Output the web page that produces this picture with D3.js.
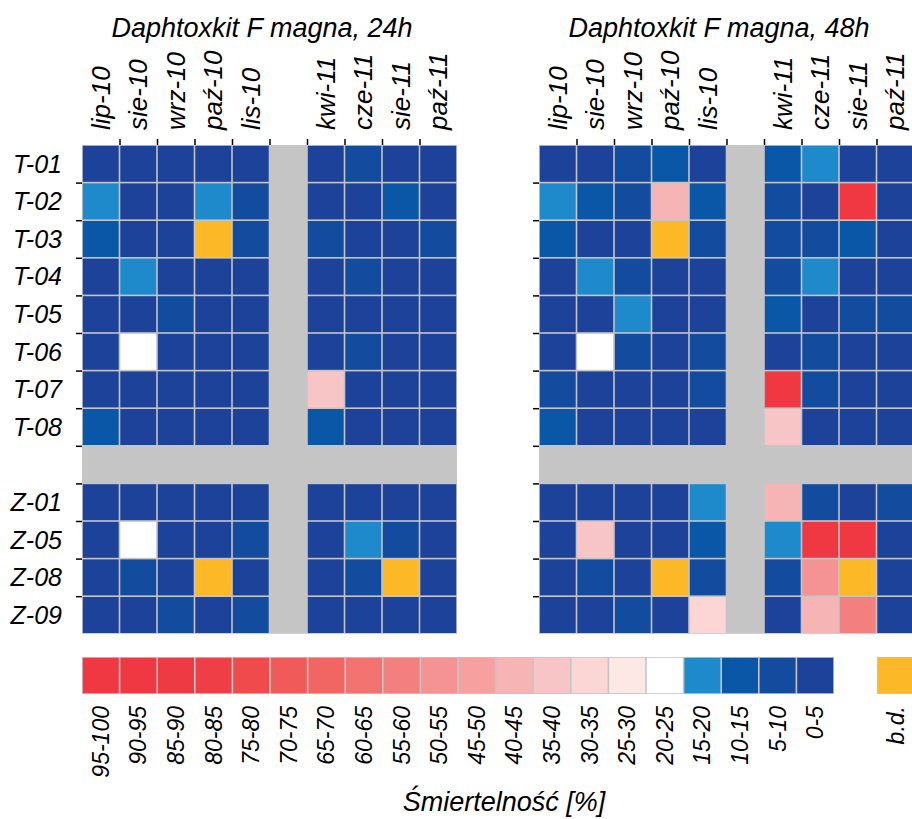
<!DOCTYPE html>
<html>
<head>
<meta charset="utf-8">
<script src="https://cdn.jsdelivr.net/npm/d3@7"></script>
<style>
  body { margin: 0; background: #fff; }
  text { font-family: "Liberation Sans", Arial, sans-serif; font-style: italic; fill: #000; }
</style>
</head>
<body>
<script>
var miesiace = ["lip-10", "sie-10", "wrz-10", "paź-10", "lis-10", "przerwa", "kwi-11", "cze-11", "sie-11", "paź-11"];
var probki = ["T-01", "T-02", "T-03", "T-04", "T-05", "T-06", "T-07", "T-08", "przerwa", "Z-01", "Z-05", "Z-08", "Z-09"];

var klasy = ["95-100", "90-95", "85-90", "80-85", "75-80", "70-75", "65-70", "60-65", "55-60", "50-55",
             "45-50", "40-45", "35-40", "30-35", "25-30", "20-25", "15-20", "10-15", "5-10", "0-5"];
var koloryKlas = ["#ef3842", "#ef3842", "#ee3a43", "#ee3e46", "#ef4b4c", "#f05a58", "#f16663", "#f2736f", "#f3807f", "#f59293",
                  "#f6a0a0", "#f7b4b5", "#f8c5c7", "#fbd6d5", "#fce8e4", "#ffffff", "#1f8acb", "#0b57a7", "#134b9f", "#1d429a"];
var brakDanych = "b.d.";
var kolorBrakDanych = "#fdb827";

// wiersze: T-01..T-08, Z-01, Z-05, Z-08, Z-09; kolumny bez przerwy
var wyniki24h = [
  ["0-5", "0-5", "0-5", "0-5", "0-5", "0-5", "5-10", "0-5", "0-5"],
  ["15-20", "0-5", "0-5", "15-20", "5-10", "0-5", "0-5", "10-15", "0-5"],
  ["10-15", "0-5", "0-5", "b.d.", "5-10", "5-10", "0-5", "0-5", "5-10"],
  ["0-5", "15-20", "0-5", "0-5", "0-5", "0-5", "5-10", "0-5", "0-5"],
  ["0-5", "0-5", "5-10", "0-5", "0-5", "0-5", "0-5", "0-5", "0-5"],
  ["0-5", "20-25", "0-5", "0-5", "0-5", "0-5", "5-10", "0-5", "0-5"],
  ["0-5", "0-5", "0-5", "0-5", "0-5", "35-40", "0-5", "0-5", "0-5"],
  ["10-15", "0-5", "0-5", "0-5", "0-5", "10-15", "0-5", "0-5", "0-5"],
  ["0-5", "0-5", "0-5", "0-5", "0-5", "0-5", "0-5", "0-5", "0-5"],
  ["0-5", "20-25", "0-5", "0-5", "5-10", "0-5", "15-20", "5-10", "0-5"],
  ["0-5", "5-10", "0-5", "b.d.", "0-5", "0-5", "5-10", "b.d.", "0-5"],
  ["0-5", "0-5", "5-10", "0-5", "5-10", "0-5", "0-5", "0-5", "0-5"]
];

var wyniki48h = [
  ["0-5", "0-5", "5-10", "10-15", "0-5", "10-15", "15-20", "0-5", "0-5"],
  ["15-20", "10-15", "5-10", "40-45", "10-15", "5-10", "0-5", "95-100", "0-5"],
  ["10-15", "0-5", "0-5", "b.d.", "5-10", "5-10", "5-10", "10-15", "0-5"],
  ["0-5", "15-20", "5-10", "0-5", "0-5", "5-10", "15-20", "0-5", "0-5"],
  ["0-5", "0-5", "15-20", "0-5", "0-5", "10-15", "0-5", "5-10", "5-10"],
  ["0-5", "20-25", "5-10", "0-5", "5-10", "0-5", "5-10", "0-5", "0-5"],
  ["5-10", "0-5", "0-5", "0-5", "5-10", "95-100", "5-10", "0-5", "0-5"],
  ["10-15", "0-5", "0-5", "0-5", "0-5", "35-40", "0-5", "0-5", "0-5"],
  ["0-5", "0-5", "0-5", "0-5", "15-20", "40-45", "5-10", "0-5", "5-10"],
  ["0-5", "35-40", "0-5", "0-5", "10-15", "15-20", "95-100", "95-100", "0-5"],
  ["0-5", "5-10", "0-5", "b.d.", "5-10", "5-10", "50-55", "b.d.", "0-5"],
  ["0-5", "0-5", "5-10", "0-5", "30-35", "0-5", "40-45", "55-60", "0-5"]
];

var szerokosc = 912;
var wysokosc = 819;
var bok = 37.5;
var gora = 145;
var szary = "#c5c5c5";

var kolory = d3.scaleOrdinal()
               .domain(klasy.concat([brakDanych]))
               .range(koloryKlas.concat([kolorBrakDanych]));

var svg = d3.select("body")
            .append("svg")
            .attr("width", szerokosc)
            .attr("height", wysokosc);

function rysujPanel(x0, tytul, wyniki, zEtykietami) {
  var x = d3.scaleBand()
            .domain(miesiace)
            .range([x0, x0 + miesiace.length * bok]);
  var y = d3.scaleBand()
            .domain(probki)
            .range([gora, gora + probki.length * 37.6]);

  var kolumny = miesiace.filter(function(m) { return m != "przerwa"; });
  var wiersze = probki.filter(function(p) { return p != "przerwa"; });

  var komorki = [];
  wiersze.forEach(function(w, i) {
    kolumny.forEach(function(k, j) {
      komorki.push({ wiersz: w, kolumna: k, klasa: wyniki[i][j] });
    });
  });

  var g = svg.append("g");

  g.append("rect")
   .attr("x", x.range()[0])
   .attr("y", y.range()[0])
   .attr("width", x.range()[1] - x.range()[0])
   .attr("height", y.range()[1] - y.range()[0])
   .attr("fill", szary);

  g.selectAll("rect.komorka")
   .data(komorki)
   .enter()
   .append("rect")
   .attr("class", "komorka")
   .attr("x", function(d) { return x(d.kolumna) + 0.8; })
   .attr("y", function(d) { return y(d.wiersz) + 0.8; })
   .attr("width", x.bandwidth() - 1.6)
   .attr("height", y.bandwidth() - 1.6)
   .attr("fill", function(d) { return kolory(d.klasa); });

  // kreski miedzy kolumnami i wierszami
  var xKreski = d3.scaleLinear().domain([0, miesiace.length]).range(x.range());
  var yKreski = d3.scaleLinear().domain([0, probki.length]).range(y.range());

  g.append("g")
   .attr("transform", "translate(0," + gora + ")")
   .call(d3.axisTop(xKreski)
           .tickValues(d3.range(1, miesiace.length))
           .tickSize(6)
           .tickSizeOuter(0)
           .tickFormat(""))
   .call(function(a) { a.select(".domain").remove(); })
   .selectAll("line")
   .attr("stroke-width", 1.5);

  g.append("g")
   .attr("transform", "translate(" + x0 + ",0)")
   .call(d3.axisLeft(yKreski)
           .tickValues(d3.range(1, probki.length))
           .tickSize(6)
           .tickSizeOuter(0)
           .tickFormat(""))
   .call(function(a) { a.select(".domain").remove(); })
   .selectAll("line")
   .attr("stroke-width", 1.5);

  g.selectAll("text.miesiac")
   .data(kolumny)
   .enter()
   .append("text")
   .attr("class", "miesiac")
   .attr("transform", function(d) {
     return "translate(" + (x(d) + x.bandwidth() / 2) + ",130) rotate(-90)";
   })
   .attr("dy", "0.35em")
   .attr("font-size", 26)
   .text(function(d) { return d; });

  if (zEtykietami) {
    g.selectAll("text.probka")
     .data(wiersze)
     .enter()
     .append("text")
     .attr("class", "probka")
     .attr("x", x0 - 20)
     .attr("y", function(d) { return y(d) + y.bandwidth() / 2; })
     .attr("dy", "0.35em")
     .attr("text-anchor", "end")
     .attr("font-size", 25)
     .text(function(d) { return d; });
  }

  g.append("text")
   .attr("x", x0 + 180)
   .attr("y", 37)
   .attr("text-anchor", "middle")
   .attr("font-size", 27)
   .text(tytul);
}

rysujPanel(82, "Daphtoxkit F magna, 24h", wyniki24h, true);
rysujPanel(539, "Daphtoxkit F magna, 48h", wyniki48h, false);

// legenda
var xLeg = d3.scaleBand()
             .domain(klasy)
             .range([82, 82 + klasy.length * 37.6]);
var yLeg = 657;
var hLeg = 37;
var xBd = xLeg.range()[1] + 43;

var leg = svg.append("g");

leg.append("rect")
   .attr("x", xLeg.range()[0])
   .attr("y", yLeg)
   .attr("width", xLeg.range()[1] - xLeg.range()[0])
   .attr("height", hLeg)
   .attr("fill", szary);

leg.append("rect")
   .attr("x", xBd)
   .attr("y", yLeg)
   .attr("width", xLeg.bandwidth())
   .attr("height", hLeg)
   .attr("fill", szary);

leg.selectAll("rect.klasa")
   .data(klasy)
   .enter()
   .append("rect")
   .attr("class", "klasa")
   .attr("x", function(d) { return xLeg(d) + 0.8; })
   .attr("y", yLeg + 0.8)
   .attr("width", xLeg.bandwidth() - 1.6)
   .attr("height", hLeg - 1.6)
   .attr("fill", function(d) { return kolory(d); });

leg.append("rect")
   .attr("x", xBd + 0.8)
   .attr("y", yLeg + 0.8)
   .attr("width", xLeg.bandwidth() - 1.6)
   .attr("height", hLeg - 1.6)
   .attr("fill", kolory(brakDanych));

leg.selectAll("text.klasa")
   .data(klasy)
   .enter()
   .append("text")
   .attr("class", "klasa")
   .attr("transform", function(d) {
     return "translate(" + (xLeg(d) + xLeg.bandwidth() / 2) + "," + (yLeg + hLeg + 12) + ") rotate(-90)";
   })
   .attr("dy", "0.35em")
   .attr("text-anchor", "end")
   .attr("font-size", 23)
   .text(function(d) { return d; });

leg.append("text")
   .attr("transform", "translate(" + (xBd + xLeg.bandwidth() / 2) + "," + (yLeg + hLeg + 12) + ") rotate(-90)")
   .attr("dy", "0.35em")
   .attr("text-anchor", "end")
   .attr("font-size", 23)
   .text(brakDanych);

leg.append("text")
   .attr("x", 504)
   .attr("y", 811)
   .attr("text-anchor", "middle")
   .attr("font-size", 27)
   .text("Śmiertelność [%]");
</script>
</body>
</html>
